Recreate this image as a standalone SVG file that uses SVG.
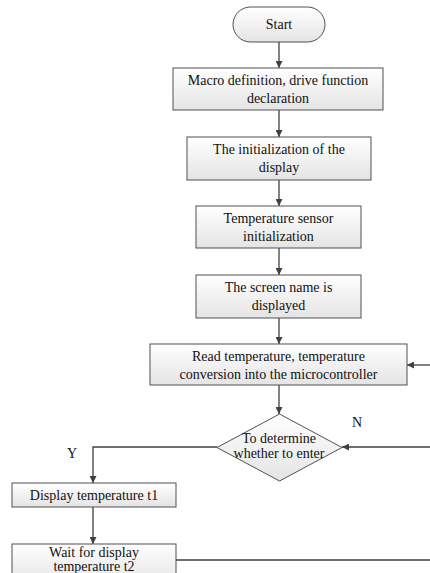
<svg xmlns="http://www.w3.org/2000/svg" width="430" height="573" viewBox="0 0 430 573">
<style>
.box{fill:url(#g);stroke:#505050;stroke-width:1}
text{font-family:"Liberation Serif","Times New Roman","DejaVu Serif",serif;font-size:14px;fill:#111;text-anchor:middle}
.c{fill:none;stroke:#404040;stroke-width:1.3}
</style>
<defs>
<linearGradient id="g" x1="0" y1="0" x2="0" y2="1">
<stop offset="0" stop-color="#ffffff"/>
<stop offset="1" stop-color="#e4e4e4"/>
</linearGradient>
<marker id="a" viewBox="0 0 10 10" refX="10" refY="5" markerWidth="7" markerHeight="7" orient="auto" markerUnits="userSpaceOnUse">
<path d="M0,0 L10,5 L0,10 z" fill="#404040"/>
</marker>
</defs>
<g id="connectors">
<path class="c" d="M279,42 V68" marker-end="url(#a)"/>
<path class="c" d="M279,110 V137" marker-end="url(#a)"/>
<path class="c" d="M279,180 V206" marker-end="url(#a)"/>
<path class="c" d="M279,248 V275" marker-end="url(#a)"/>
<path class="c" d="M279,318 V344" marker-end="url(#a)"/>
<path class="c" d="M279,385 V414" marker-end="url(#a)"/>
<path class="c" d="M217,447 H93 V483" marker-end="url(#a)"/>
<path class="c" d="M93,507 V544" marker-end="url(#a)"/>
<path class="c" d="M176,560 H430"/>
<path class="c" d="M430,447 H342" marker-end="url(#a)"/>
<path class="c" d="M430,365 H407" marker-end="url(#a)"/>
</g>
<g id="start">
<rect class="box" x="233" y="7" width="92" height="35" rx="17.5"/>
<text x="279" y="29">Start</text>
</g>
<g id="macro">
<rect class="box" x="173" y="68" width="210" height="42"/>
<text x="278" y="85">Macro definition, drive function</text>
<text x="278" y="103">declaration</text>
</g>
<g id="initdisplay">
<rect class="box" x="187" y="137" width="184" height="43"/>
<text x="279" y="154">The initialization of the</text>
<text x="279" y="172">display</text>
</g>
<g id="sensor">
<rect class="box" x="196" y="206" width="165" height="42"/>
<text x="278.5" y="223">Temperature sensor</text>
<text x="278.5" y="241">initialization</text>
</g>
<g id="screen">
<rect class="box" x="196" y="275" width="165" height="43"/>
<text x="278.5" y="292">The screen name is</text>
<text x="278.5" y="310">displayed</text>
</g>
<g id="read">
<rect class="box" x="150" y="344" width="257" height="41"/>
<text x="278.5" y="361">Read temperature, temperature</text>
<text x="278.5" y="379">conversion into the microcontroller</text>
</g>
<g id="decide">
<polygon class="box" points="279.5,414 342,447.5 279.5,481 217,447.5"/>
<text x="279" y="443">To determine</text>
<text x="279" y="458">whether to enter</text>
</g>
<g id="showt1">
<rect class="box" x="12" y="483" width="164" height="24"/>
<text x="94" y="500">Display temperature t1</text>
</g>
<g id="waitt2">
<rect class="box" x="12" y="544" width="164" height="40"/>
<text x="94" y="557">Wait for display</text>
<text x="94" y="571">temperature t2</text>
</g>
<g id="labels">
<text x="72" y="458" font-size="13">Y</text>
<text x="357" y="427" font-size="13">N</text>
</g>
</svg>
